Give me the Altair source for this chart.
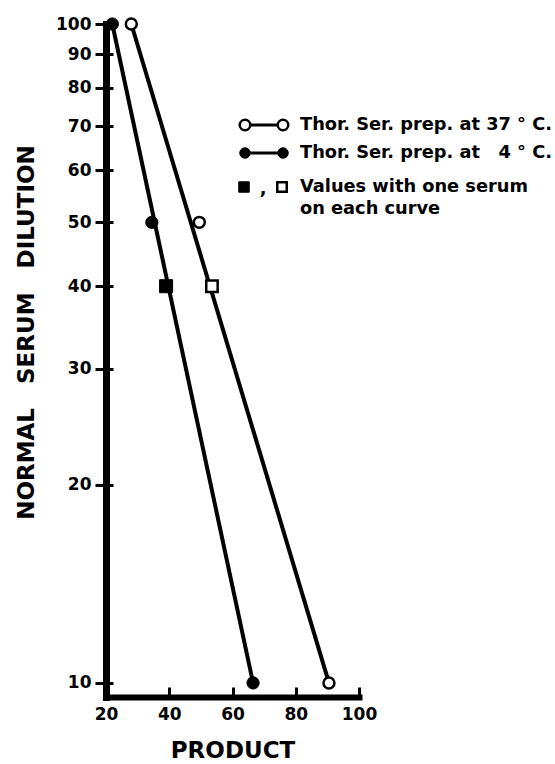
import altair as alt
import pandas as pd

# ---------------- data ----------------
x_ticks = [20, 40, 60, 80, 100]
y_ticks = [10, 20, 30, 40, 50, 60, 70, 80, 90, 100]

# Thor. Ser. prep. at 37 C (open circles)
warm_x = [28, 49.5, 90.5]
warm_y = [100, 50, 10]
# Thor. Ser. prep. at 4 C (filled circles)
cold_x = [22, 34.5, 66.5]
cold_y = [100, 50, 10]
# values with one serum on each curve (squares)
warm_sq_x = [53.5]
warm_sq_y = [40]
cold_sq_x = [39]
cold_sq_y = [40]
# fitted straight lines (endpoints)
warm_line_x = [28, 90.5]
cold_line_x = [22, 66.5]
line_y = [100, 10]

legend_labels = [
    "Thor. Ser. prep. at 37 ° C.",
    "Thor. Ser. prep. at \u00a0\u00a04 ° C.",
    "Values with one serum",
    "on each curve",
]

FONT = "DejaVu Sans"
W, H = 253, 673

xs = alt.Scale(domain=[20, 100], nice=False, zero=False)
ys = alt.Scale(type="log", domain=[9.52, 100], nice=False)

df_lines = pd.DataFrame({
    "x": warm_line_x + cold_line_x,
    "y": line_y + line_y,
    "s": ["37", "37", "4", "4"],
})
df_warm = pd.DataFrame({"x": warm_x, "y": warm_y})
df_cold = pd.DataFrame({"x": cold_x, "y": cold_y})
df_wsq = pd.DataFrame({"x": warm_sq_x, "y": warm_sq_y})
df_csq = pd.DataFrame({"x": cold_sq_x, "y": cold_sq_y})

x_axis_main = alt.Axis(
    values=x_ticks, format="d", grid=False, ticks=False,
    domainColor="black", domainWidth=6, domainCap="square",
    labelFont=FONT, labelFontWeight="bold", labelFontSize=17, labelColor="black",
    labelPadding=9, labelFlush=False,
    title="PRODUCT", titleFont=FONT, titleFontWeight="bold", titleFontSize=23,
    titleColor="black", titleBaseline="alphabetic", titleY=60,
)
y_axis_main = alt.Axis(
    values=y_ticks, format="d", grid=False,
    domainColor="black", domainWidth=7, domainCap="square",
    tickColor="black", tickWidth=3, tickSize=11,
    labelFont=FONT, labelFontWeight="bold", labelFontSize=17, labelColor="black",
    labelPadding=4, labelFlush=False,
    title="NORMAL\u00a0\u00a0\u00a0SERUM\u00a0\u00a0\u00a0DILUTION",
    titleFont=FONT, titleFontWeight="bold", titleFontSize=23, titleColor="black",
    titleAngle=270, titleAlign="center", titleBaseline="alphabetic",
    titleX=-73, titleY=308,
)
# tick-only axes drawn inward
x_axis_in = alt.Axis(
    orient="top", offset=-H, values=x_ticks, labels=False, domain=False,
    grid=False, title=None, tickColor="black", tickWidth=3, tickSize=10,
)
y_axis_in = alt.Axis(
    orient="right", offset=-W, values=y_ticks, labels=False, domain=False,
    grid=False, title=None, tickColor="black", tickWidth=3, tickSize=7,
)

lines = alt.Chart(df_lines).mark_line(color="black", strokeWidth=4).encode(
    x=alt.X("x:Q", scale=xs, axis=x_axis_main),
    y=alt.Y("y:Q", scale=ys, axis=y_axis_main),
    detail="s:N",
)

open_pts = alt.Chart(df_warm).mark_point(
    shape="circle", filled=True, fill="white", stroke="black", strokeWidth=2.5,
    size=120, opacity=1,
).encode(
    x=alt.X("x:Q", scale=xs, axis=x_axis_in),
    y=alt.Y("y:Q", scale=ys, axis=y_axis_in),
)

filled_pts = alt.Chart(df_cold).mark_point(
    shape="circle", filled=True, fill="black", stroke="black", strokeWidth=1,
    size=150, opacity=1,
).encode(
    x=alt.X("x:Q", scale=xs, axis=None),
    y=alt.Y("y:Q", scale=ys, axis=None),
)

open_sq = alt.Chart(df_wsq).mark_point(
    shape="square", filled=True, fill="white", stroke="black", strokeWidth=2.5,
    size=130, opacity=1,
).encode(
    x=alt.X("x:Q", scale=xs, axis=None),
    y=alt.Y("y:Q", scale=ys, axis=None),
)

filled_sq = alt.Chart(df_csq).mark_point(
    shape="square", filled=True, fill="black", stroke="black", strokeWidth=1,
    size=170, opacity=1,
).encode(
    x=alt.X("x:Q", scale=xs, axis=None),
    y=alt.Y("y:Q", scale=ys, axis=None),
)

# ---------------- hand-made legend ----------------
one = pd.DataFrame({"k": [0]})
leg = []
row_y = [101, 129, 163, 185]
sym_x1, sym_x2, text_x = 139, 177, 194
LEG_FS = 17.8

for ry, fillc in [(row_y[0], "white"), (row_y[1], "black")]:
    leg.append(alt.Chart(one).mark_rule(color="black", strokeWidth=3).encode(
        x=alt.value(sym_x1), x2=alt.value(sym_x2), y=alt.value(ry)))
    for sx in (sym_x1, sym_x2):
        leg.append(alt.Chart(one).mark_point(
            shape="circle", filled=True, fill=fillc, stroke="black",
            strokeWidth=2.5 if fillc == "white" else 1, size=110, opacity=1,
        ).encode(x=alt.value(sx), y=alt.value(ry)))

leg.append(alt.Chart(one).mark_point(
    shape="square", filled=True, fill="black", stroke="black", strokeWidth=1,
    size=110, opacity=1).encode(x=alt.value(sym_x1 - 1), y=alt.value(row_y[2])))
leg.append(alt.Chart(one).mark_point(
    shape="square", filled=True, fill="white", stroke="black", strokeWidth=2.5,
    size=90, opacity=1).encode(x=alt.value(sym_x2 - 1), y=alt.value(row_y[2])))
leg.append(alt.Chart(pd.DataFrame({"t": [","]})).mark_text(
    font=FONT, fontWeight="bold", fontSize=LEG_FS, align="center", baseline="middle",
    color="black").encode(x=alt.value(157), y=alt.value(row_y[2] + 2), text="t:N"))

for lab, ry in zip(legend_labels, row_y):
    leg.append(alt.Chart(pd.DataFrame({"t": [lab]})).mark_text(
        font=FONT, fontWeight="bold", fontSize=LEG_FS, align="left",
        baseline="middle", color="black",
    ).encode(x=alt.value(text_x), y=alt.value(ry), text="t:N"))

chart = alt.layer(
    lines, open_pts, filled_pts, open_sq, filled_sq, *leg
).resolve_axis(x="independent", y="independent").properties(
    width=W, height=H,
    autosize=alt.AutoSizeParams(type="none"),
    padding={"left": 106, "top": 24, "right": 196, "bottom": 67},
    background="white",
).configure_view(stroke=None)

chart.save("out.html", embed_options={"renderer": "svg", "actions": False})
